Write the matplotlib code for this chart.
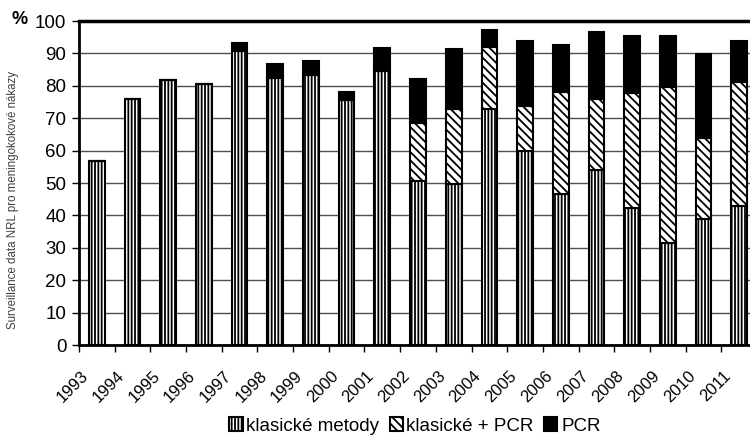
import matplotlib
matplotlib.use("Agg")
import matplotlib.pyplot as plt
import matplotlib.transforms as mtransforms
import numpy as np

years = ["1993", "1994", "1995", "1996", "1997", "1998", "1999", "2000", "2001", "2002",
         "2003", "2004", "2005", "2006", "2007", "2008", "2009", "2010", "2011"]
klasicke = [56.9, 76.0, 81.8, 80.5, 90.8, 82.3, 83.2, 75.6, 84.7, 50.6,
            49.6, 72.7, 59.8, 46.7, 54.1, 42.4, 31.6, 38.8, 42.9]
klasicke_pcr = [0, 0, 0, 0, 0, 0, 0, 0, 0, 17.8,
                23.2, 19.4, 14.1, 31.3, 21.8, 35.3, 48.0, 25.0, 38.3]
pcr = [0, 0, 0, 0, 2.5, 4.5, 4.5, 2.4, 7.1, 13.7,
       18.5, 5.2, 20.0, 14.5, 20.8, 17.8, 15.9, 26.1, 12.7]
yticks = list(range(0, 101, 10))

plt.rcParams['font.family'] = ['Liberation Sans', 'DejaVu Sans']
plt.rcParams['hatch.linewidth'] = 1.3

fig = plt.figure(figsize=(7.5, 4.37), dpi=100)
ax = fig.add_axes([79/750, 92/437, 678/750, 324/437])

x = np.arange(len(years))
w = 0.44
k = np.array(klasicke)
kp = np.array(klasicke_pcr)
p = np.array(pcr)

b1 = ax.bar(x, k, w, color='white', edgecolor='black', hatch='|||||', linewidth=1.5,
            label='klasické metody', zorder=3)
b2 = ax.bar(x, kp, w, bottom=k, color='white', edgecolor='black', hatch='\\\\\\\\',
            linewidth=1.5, label='klasické + PCR', zorder=3)
b3 = ax.bar(x, p, w, bottom=k + kp, color='black', edgecolor='black', linewidth=1.5,
            label='PCR', zorder=3)

ax.set_xlim(-0.5, len(years) - 0.5)
ax.set_ylim(0, 100)
ax.set_yticks(yticks)
ax.set_yticklabels([str(t) for t in yticks], fontsize=13.5)
ax.yaxis.grid(True, color='#505050', linewidth=1.0, zorder=0)
ax.set_axisbelow(True)

ax.set_xticks(np.arange(len(years) + 1) - 0.5, minor=False)
ax.set_xticklabels([])
ax.set_xticks(x, minor=True)
ax.set_xticklabels(years, minor=True, rotation=45, ha='right', va='top',
                   fontsize=12, rotation_mode='anchor')
ax.tick_params(axis='x', which='minor', length=0, pad=6)
ax.tick_params(axis='x', which='major', direction='out', length=5, width=1)
ax.tick_params(axis='y', direction='out', length=5, width=1, pad=4)

offset = mtransforms.ScaledTranslation(-0.16, -0.15, fig.dpi_scale_trans)
for lbl in ax.xaxis.get_minorticklabels():
    lbl.set_transform(lbl.get_transform() + offset)

ax.spines['right'].set_visible(False)
ax.spines['left'].set_linewidth(2)
ax.spines['bottom'].set_linewidth(2)
ax.spines['top'].set_linewidth(2.5)

fig.text(12/750, 1 - 20/437, '%', fontsize=13, fontweight='bold', ha='left', va='center')
fig.text(13/750, 1 - 200/437, 'Surveillance data NRL pro meningokokové nákazy',
         rotation=90, fontsize=8.3, color='#404040', ha='center', va='center')

fig.legend(handles=[b1, b2, b3], loc='center', bbox_to_anchor=(415/750, 1 - 426/437),
           ncol=3, frameon=False, fontsize=13.5, handlelength=0.7, handleheight=0.7,
           handletextpad=0.2, columnspacing=0.55, borderpad=0)

fig.savefig('out.png', dpi=100)
